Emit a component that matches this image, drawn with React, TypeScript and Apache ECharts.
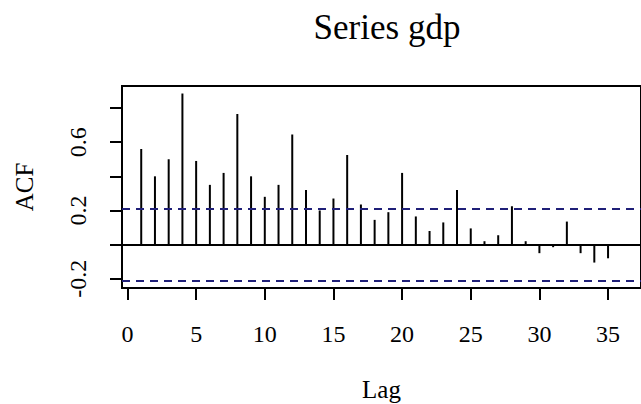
import React, { useEffect, useRef } from "react";
import * as echarts from "echarts";

const lags: number[] = [1, 2, 3, 4, 5, 6, 7, 8, 9, 10, 11, 12, 13, 14, 15, 16, 17, 18, 19, 20, 21, 22, 23, 24, 25, 26, 27, 28, 29, 30, 31, 32, 33, 34, 35];
const acfValues: number[] = [
  0.56, 0.4, 0.5, 0.885, 0.49, 0.35, 0.42, 0.765, 0.4, 0.28,
  0.35, 0.645, 0.32, 0.2, 0.27, 0.525, 0.235, 0.145, 0.19, 0.42,
  0.165, 0.08, 0.13, 0.32, 0.095, 0.02, 0.055, 0.225, 0.02, -0.05,
  -0.015, 0.135, -0.05, -0.105, -0.08,
];
const ciLimit = 0.207;
const xTicks: number[] = [0, 5, 10, 15, 20, 25, 30, 35];
const yTicks: number[] = [-0.2, 0, 0.2, 0.4, 0.6, 0.8];
const yLabels: number[] = [-0.2, 0.2, 0.6];

const FONT = "'Liberation Serif', 'Times New Roman', serif";

export default function App() {
  const ref = useRef<HTMLDivElement>(null);
  useEffect(() => {
    if (!ref.current) return;
    const chart = echarts.init(ref.current, null, { renderer: "svg" });
    const ciColor = "#1f1f78";
    chart.setOption({
      animation: false,
      backgroundColor: "#ffffff",
      title: {
        text: "Series gdp",
        left: 382,
        top: 5,
        textAlign: "center",
        textStyle: { fontFamily: FONT, fontSize: 35, fontWeight: "normal", color: "#000" },
      },
      grid: {
        left: 122,
        top: 86,
        width: 520,
        height: 202,
        show: true,
        borderColor: "#000",
        borderWidth: 2,
        backgroundColor: "transparent",
      },
      xAxis: {
        type: "value",
        min: -0.4,
        max: 37.4,
        name: "Lag",
        nameLocation: "middle",
        nameGap: 89,
        nameTextStyle: { fontFamily: FONT, fontSize: 25, color: "#000" },
        axisLine: { show: true, onZero: false, lineStyle: { color: "#000", width: 2 } },
        axisTick: { show: true, inside: false, length: 12, customValues: xTicks, lineStyle: { color: "#000", width: 2 } },
        axisLabel: { customValues: xTicks, fontFamily: FONT, fontSize: 24, color: "#000", margin: 34 },
        splitLine: { show: false },
      },
      yAxis: {
        type: "value",
        min: -0.254,
        max: 0.929,
        name: "ACF",
        nameLocation: "middle",
        nameRotate: 90,
        nameGap: 85,
        nameTextStyle: { fontFamily: FONT, fontSize: 25, color: "#000" },
        axisLine: { show: true, onZero: false, lineStyle: { color: "#000", width: 2 } },
        axisTick: { show: true, inside: false, length: 12, customValues: yTicks, lineStyle: { color: "#000", width: 2 } },
        axisLabel: {
          customValues: yLabels,
          rotate: 90,
          fontFamily: FONT,
          fontSize: 24,
          color: "#000",
          margin: 32,
          formatter: (v: number) => String(Math.round(v * 10) / 10),
        },
        splitLine: { show: false },
      },
      series: [
        {
          type: "bar",
          barWidth: 2,
          itemStyle: { color: "#000" },
          data: lags.map((l, i) => [l, acfValues[i]]),
          markLine: {
            silent: true,
            symbol: "none",
            label: { show: false },
            data: [
              { yAxis: 0, lineStyle: { color: "#000", width: 2, type: "solid" } },
              { yAxis: ciLimit, lineStyle: { color: ciColor, width: 2, type: [8, 6] } },
              { yAxis: -ciLimit, lineStyle: { color: ciColor, width: 2, type: [8, 6] } },
            ],
          },
        },
      ],
    });
    return () => chart.dispose();
  }, []);
  return <div ref={ref} style={{ width: 641, height: 404, position: "fixed", left: 0, top: 0 }} />;
}
